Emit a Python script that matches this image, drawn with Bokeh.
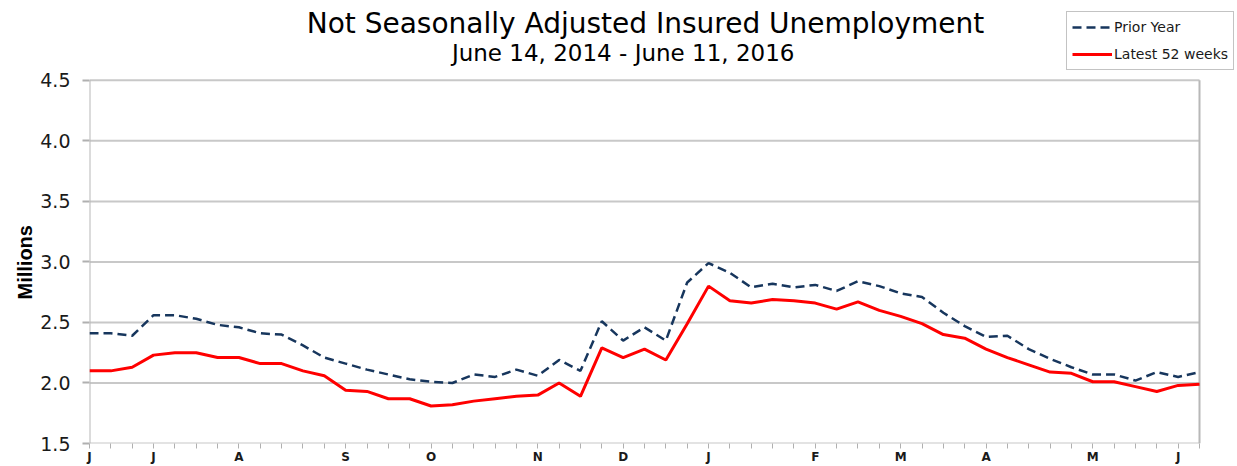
from bokeh.plotting import figure
from bokeh.models import FixedTicker, Range1d, Legend, LegendItem, Label, Title
from bokeh.embed import file_html
from bokeh.resources import INLINE

# ---- data (millions), weekly points, mid-June 2015 .. June 11 2016 ----
weeks = list(range(53))
prior_year = [2.41, 2.41, 2.39, 2.56, 2.56, 2.53, 2.48, 2.46, 2.41, 2.40,
              2.31, 2.21, 2.16, 2.11, 2.07, 2.03, 2.01, 2.00, 2.07, 2.05,
              2.11, 2.06, 2.19, 2.10, 2.51, 2.35, 2.46, 2.35, 2.83, 2.99,
              2.91, 2.79, 2.82, 2.79, 2.81, 2.76, 2.84, 2.80, 2.74, 2.71,
              2.58, 2.47, 2.38, 2.39, 2.28, 2.20, 2.13, 2.07, 2.07, 2.02,
              2.09, 2.05, 2.09]
latest_52 = [2.10, 2.10, 2.13, 2.23, 2.25, 2.25, 2.21, 2.21, 2.16, 2.16,
             2.10, 2.06, 1.94, 1.93, 1.87, 1.87, 1.81, 1.82, 1.85, 1.87,
             1.89, 1.90, 2.00, 1.89, 2.29, 2.21, 2.28, 2.19, 2.49, 2.80,
             2.68, 2.66, 2.69, 2.68, 2.66, 2.61, 2.67, 2.60, 2.55, 2.49,
             2.40, 2.37, 2.28, 2.21, 2.15, 2.09, 2.08, 2.01, 2.01, 1.97,
             1.93, 1.98, 1.99]
month_tick_index = [0, 3, 7, 12, 16, 21, 25, 29, 34, 38, 42, 47, 51]
month_labels = ["J", "J", "A", "S", "O", "N", "D", "J", "F", "M", "A", "M", "J"]
y_ticks = [1.5, 2.0, 2.5, 3.0, 3.5, 4.0, 4.5]
y_tick_labels = ["1.5", "2.0", "2.5", "3.0", "3.5", "4.0", "4.5"]

title_text = "Not Seasonally Adjusted Insured Unemployment"
subtitle_text = "June 14, 2014  -  June 11, 2016"
legend_labels = ["Prior Year", "Latest 52 weeks"]
y_axis_title = "Millions"

FONT = "DejaVu Sans"

# ---- layout (pixels) ----
W, H = 1237, 466
LEFT, BOTTOM = 89, 22
PLOT_W_PX, PLOT_H_PX = 1110, 364     # drawing area of the 52 weeks / 1.5..4.5
frame_w = W - LEFT
frame_h = H - BOTTOM
x_lo, x_hi = weeks[0], weeks[-1]
y_lo, y_hi = y_ticks[0], y_ticks[-1]
x_end = x_lo + (x_hi - x_lo) * frame_w / PLOT_W_PX
y_end = y_lo + (y_hi - y_lo) * frame_h / PLOT_H_PX

p = figure(width=W, height=H, output_backend="svg", toolbar_location=None,
           x_range=Range1d(x_lo, x_end), y_range=Range1d(y_lo, y_end),
           min_border_left=LEFT, min_border_right=0, min_border_top=0,
           min_border_bottom=BOTTOM)

p.background_fill_color = "white"
p.border_fill_color = "white"
p.outline_line_color = None

# y axis
p.yaxis.ticker = FixedTicker(ticks=y_ticks)
p.yaxis.major_label_overrides = dict(zip(y_ticks, y_tick_labels))
p.yaxis.major_label_text_font = FONT
p.yaxis.major_label_text_font_size = "19px"
p.yaxis.major_label_text_color = "#1a1a1a"
p.yaxis.major_label_standoff = 12
p.yaxis.major_tick_out = 7
p.yaxis.major_tick_in = 0
p.yaxis.minor_tick_out = 0
p.yaxis.minor_tick_in = 0
p.yaxis.major_tick_line_color = "#b0b0b0"
p.yaxis.major_tick_line_width = 2
p.yaxis.axis_line_color = None

# x axis
overrides = {i: "" for i in weeks}
for i, lab in zip(month_tick_index, month_labels):
    overrides[i] = lab
p.xaxis.ticker = FixedTicker(ticks=weeks)
p.xaxis.major_label_overrides = overrides
p.xaxis.major_label_text_font = FONT
p.xaxis.major_label_text_font_style = "bold"
p.xaxis.major_label_text_font_size = "12px"
p.xaxis.major_label_text_color = "#1a1a1a"
p.xaxis.major_label_standoff = 1
p.xaxis.major_tick_out = 5
p.xaxis.major_tick_in = 0
p.xaxis.minor_tick_out = 0
p.xaxis.minor_tick_in = 0
p.xaxis.major_tick_line_color = "#b0b0b0"
p.xaxis.major_tick_line_width = 1
p.xaxis.axis_line_color = None

p.xgrid.grid_line_color = None
p.ygrid.grid_line_color = None

# plot-area lines: horizontal gridlines and the left/right borders
p.segment(x0=[x_lo] * len(y_ticks), y0=y_ticks, x1=[x_hi] * len(y_ticks), y1=y_ticks,
          line_color="#c8c8c8", line_width=2)
p.segment(x0=[x_lo, x_hi], y0=[y_lo, y_lo], x1=[x_lo, x_hi], y1=[y_hi, y_hi],
          line_color="#b8b8b8", line_width=2)

r_prior = p.line(weeks, prior_year, line_color="#17365D", line_width=2.5,
                 line_dash="9 5")
r_latest = p.line(weeks, latest_52, line_color="#FF0000", line_width=3)

legend = Legend(items=[LegendItem(label=legend_labels[0], renderers=[r_prior]),
                       LegendItem(label=legend_labels[1], renderers=[r_latest])],
                location=(1066 - LEFT, frame_h - 71), orientation="vertical",
                padding=5, margin=0, spacing=7,
                glyph_width=40, glyph_height=20, label_height=20,
                label_standoff=2,
                label_text_font=FONT, label_text_font_size="14px",
                label_text_color="#1a1a1a",
                border_line_color="#888888", border_line_width=1,
                background_fill_color="white", background_fill_alpha=1)
p.add_layout(legend)

title = Label(x=645 - LEFT, y=frame_h - 24, x_units="screen", y_units="screen",
              text=title_text, text_font=FONT, text_font_size="28px",
              text_color="black", text_align="center", text_baseline="middle")
subtitle = Label(x=630 - LEFT, y=frame_h - 53, x_units="screen", y_units="screen",
                 text=subtitle_text, text_font=FONT, text_font_size="23px",
                 text_color="black", text_align="center", text_baseline="middle")
p.add_layout(title)
p.add_layout(subtitle)

ytitle = Title(text=y_axis_title, align="left", offset=144, standoff=4,
               text_font="Liberation Sans", text_font_style="bold",
               text_font_size="20px", text_color="black")
p.add_layout(ytitle, "left")

open("out.html", "w").write(file_html(p, INLINE))
